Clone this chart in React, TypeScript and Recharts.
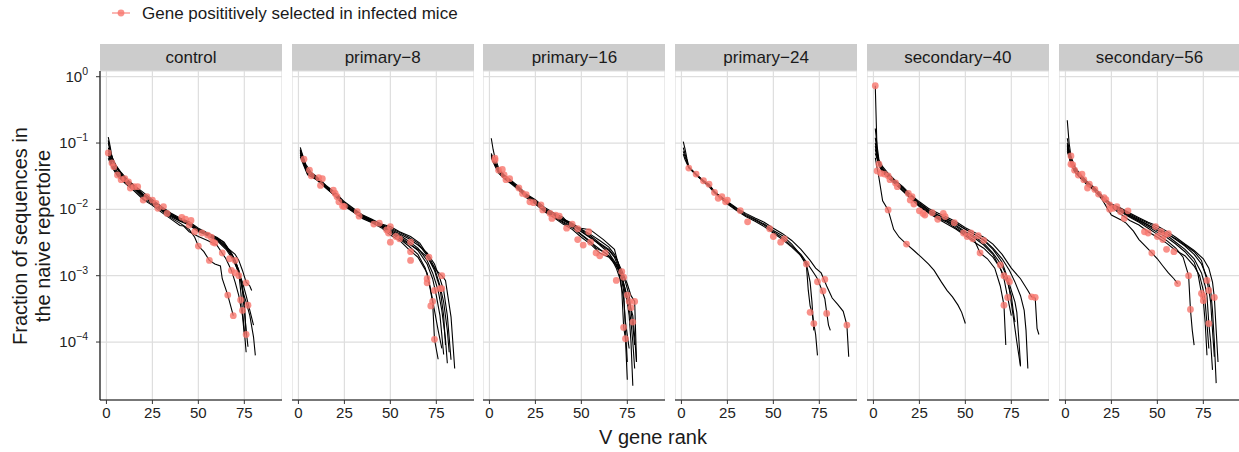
import React from "react"
import { ComposedChart, Line, Scatter, XAxis, YAxis, CartesianGrid } from "recharts"

// facet titles
const FACETS = ["control", "primary\u22128", "primary\u221216", "primary\u221224", "secondary\u221240", "secondary\u221256"]

const X_TICKS = [0, 25, 50, 75]
const Y_TICKS = [1e-4, 1e-3, 1e-2, 1e-1, 1]

// one array of [rank, fraction] per mouse
const controlLines = [
  [[1, 0.123], [2, 0.09], [3, 0.062], [5, 0.047], [8, 0.036], [12, 0.027], [16, 0.022], [20, 0.018], [25, 0.014], [30, 0.011], [35, 0.0088], [40, 0.0074], [45, 0.0065], [50, 0.0052], [55, 0.0044], [60, 0.0038], [64, 0.0032], [67, 0.0024], [70, 0.0017], [72, 0.0011], [73, 0.0006], [74, 0.0003], [75, 0.00015], [76, 0.00007]],
  [[1, 0.1], [2, 0.078], [4, 0.05], [7, 0.038], [10, 0.03], [15, 0.023], [20, 0.017], [25, 0.0135], [30, 0.0105], [35, 0.0085], [40, 0.0072], [45, 0.0063], [50, 0.005], [55, 0.0042], [60, 0.0036], [65, 0.0027], [68, 0.002], [71, 0.0013], [73, 0.0009], [74, 0.0006], [75, 0.0003], [76, 0.00015], [77, 0.000085]],
  [[1, 0.085], [3, 0.055], [6, 0.04], [10, 0.029], [15, 0.022], [20, 0.0165], [25, 0.013], [30, 0.0102], [35, 0.0082], [40, 0.0069], [45, 0.006], [50, 0.0048], [55, 0.0041], [60, 0.0035], [65, 0.0026], [68, 0.0021], [70, 0.0017], [72, 0.0012], [74, 0.0006], [76, 0.0004], [78, 0.00025], [80, 0.00012], [81, 0.000063]],
  [[1, 0.078], [3, 0.05], [6, 0.037], [10, 0.028], [15, 0.021], [20, 0.016], [25, 0.0128], [30, 0.01], [35, 0.008], [40, 0.0068], [45, 0.0059], [50, 0.0047], [55, 0.004], [60, 0.0034], [65, 0.0025], [68, 0.0019], [70, 0.0015], [72, 0.0011], [74, 0.0008], [76, 0.0005], [78, 0.0003], [80, 0.00018]],
  [[1, 0.071], [3, 0.048], [6, 0.035], [10, 0.027], [15, 0.021], [20, 0.0155], [25, 0.0125], [30, 0.0098], [35, 0.0078], [40, 0.0066], [45, 0.0058], [50, 0.0046], [55, 0.0041], [60, 0.0037], [63, 0.0033], [66, 0.0026], [70, 0.0021], [72, 0.0017], [74, 0.0012], [76, 0.0008], [78, 0.0007], [79, 0.0006]],
  [[1, 0.066], [3, 0.045], [6, 0.033], [10, 0.026], [15, 0.02], [20, 0.0145], [25, 0.012], [30, 0.0095], [35, 0.0075], [40, 0.0062], [45, 0.005], [48, 0.0038], [50, 0.0028], [53, 0.0023], [56, 0.0017], [59, 0.0015], [62, 0.0014], [63, 0.0009], [66, 0.00051], [69, 0.00025]],
  [[1, 0.059], [3, 0.043], [6, 0.032], [10, 0.025], [15, 0.019], [20, 0.014], [25, 0.0115], [30, 0.009], [35, 0.0072], [40, 0.0057], [42, 0.0056], [45, 0.0046], [50, 0.0039], [55, 0.0034], [60, 0.0029], [65, 0.0018], [68, 0.0012], [70, 0.0008], [72, 0.0005], [74, 0.00025], [75, 0.00013]],
  [[1, 0.11], [2, 0.075], [4, 0.052], [8, 0.033], [12, 0.025], [16, 0.02], [20, 0.0165], [25, 0.0132], [30, 0.0104], [35, 0.0086], [40, 0.007], [45, 0.0062], [50, 0.0049], [55, 0.0043], [60, 0.0037], [65, 0.0028], [68, 0.0022], [70, 0.0017], [72, 0.0012], [74, 0.0007], [75, 0.0004], [76, 0.00013]],
]

const primary8Lines = [
  [[1, 0.086], [2, 0.07], [4, 0.048], [7, 0.036], [10, 0.031], [15, 0.023], [20, 0.018], [25, 0.013], [30, 0.0103], [35, 0.0082], [40, 0.0071], [45, 0.006], [50, 0.0055], [55, 0.0046], [61, 0.0039], [66, 0.0031], [71, 0.0019], [75, 0.0012], [78, 0.001], [80, 0.00085], [83, 0.00024], [85, 0.00004]],
  [[1, 0.08], [3, 0.055], [5, 0.039], [10, 0.03], [15, 0.0225], [20, 0.0175], [25, 0.0125], [30, 0.01], [35, 0.008], [40, 0.0069], [45, 0.0058], [50, 0.005], [55, 0.0043], [60, 0.0036], [65, 0.0029], [70, 0.0022], [74, 0.0015], [77, 0.0009], [79, 0.0006], [81, 0.00025], [83, 0.000054]],
  [[1, 0.075], [3, 0.052], [5, 0.037], [10, 0.029], [15, 0.022], [20, 0.017], [25, 0.012], [30, 0.0097], [35, 0.0078], [40, 0.0068], [45, 0.0057], [50, 0.0048], [55, 0.0041], [60, 0.0033], [65, 0.0026], [70, 0.0017], [73, 0.0011], [76, 0.0006], [78, 0.0003], [80, 0.00011], [81, 0.000048]],
  [[1, 0.07], [3, 0.05], [5, 0.036], [10, 0.029], [15, 0.0215], [20, 0.0165], [25, 0.0118], [30, 0.0094], [35, 0.0076], [40, 0.0066], [45, 0.0056], [50, 0.0046], [55, 0.0039], [60, 0.0031], [65, 0.0024], [70, 0.0015], [73, 0.0009], [75, 0.0005], [77, 0.00025], [79, 0.000065]],
  [[1, 0.066], [3, 0.047], [5, 0.034], [10, 0.028], [15, 0.021], [20, 0.016], [25, 0.0115], [30, 0.0092], [35, 0.0074], [40, 0.0064], [45, 0.0055], [50, 0.0044], [55, 0.0036], [60, 0.0028], [65, 0.0021], [69, 0.0013], [71, 0.0008], [73, 0.0004], [74, 0.00011], [76, 0.000055]],
  [[1, 0.062], [3, 0.045], [5, 0.033], [10, 0.028], [15, 0.021], [20, 0.0158], [25, 0.0112], [30, 0.009], [35, 0.0072], [40, 0.0063], [45, 0.0053], [50, 0.0041], [55, 0.0034], [60, 0.0025], [65, 0.0019], [70, 0.0011], [72, 0.0006], [74, 0.0003], [76, 0.00015], [78, 0.00008]],
  [[1, 0.078], [2, 0.062], [4, 0.043], [8, 0.032], [12, 0.026], [18, 0.019], [22, 0.015], [26, 0.011], [32, 0.0088], [38, 0.0072], [44, 0.0062], [50, 0.0052], [55, 0.0045], [60, 0.0038], [65, 0.0031], [70, 0.002], [74, 0.0012], [77, 0.00065], [79, 0.00025], [80, 0.00009]],
  [[1, 0.072], [2, 0.06], [4, 0.042], [8, 0.031], [12, 0.025], [18, 0.019], [22, 0.014], [26, 0.011], [32, 0.0086], [38, 0.007], [44, 0.006], [50, 0.0047], [55, 0.0037], [60, 0.003], [66, 0.0024], [70, 0.0019], [74, 0.0013], [77, 0.0007], [79, 0.0004], [81, 0.00015], [82, 0.00007]],
]

const primary16Lines = [
  [[1, 0.118], [2, 0.08], [3, 0.06], [5, 0.042], [8, 0.033], [12, 0.027], [16, 0.022], [20, 0.017], [25, 0.014], [30, 0.0107], [35, 0.0088], [40, 0.0076], [44, 0.0057], [50, 0.0052], [55, 0.0049], [62, 0.0035], [68, 0.0025], [71, 0.0012], [74, 0.0006], [76, 0.0004], [78, 0.00025], [79, 0.00012], [80, 0.00005]],
  [[1, 0.066], [3, 0.052], [5, 0.04], [8, 0.032], [12, 0.026], [16, 0.021], [20, 0.0165], [25, 0.0135], [30, 0.0102], [35, 0.0085], [40, 0.0072], [45, 0.0062], [50, 0.005], [55, 0.0042], [60, 0.0034], [65, 0.0027], [68, 0.0021], [70, 0.0016], [72, 0.001], [74, 0.0006], [75, 0.0004], [76, 0.00025], [77, 0.0001], [78, 0.000022]],
  [[1, 0.062], [3, 0.048], [5, 0.038], [8, 0.031], [12, 0.025], [16, 0.02], [20, 0.016], [25, 0.013], [30, 0.0098], [35, 0.008], [40, 0.0068], [45, 0.0058], [50, 0.0046], [55, 0.0037], [60, 0.003], [65, 0.0024], [68, 0.0019], [70, 0.0014], [72, 0.0006], [73, 0.00017], [74, 0.00011], [75, 0.000027]],
  [[1, 0.065], [3, 0.05], [5, 0.037], [8, 0.03], [12, 0.025], [16, 0.0205], [20, 0.0158], [25, 0.0125], [30, 0.0095], [35, 0.0078], [40, 0.0065], [45, 0.0055], [50, 0.0042], [55, 0.0033], [58, 0.0026], [62, 0.0023], [66, 0.0019], [69, 0.0013], [71, 0.0009], [73, 0.00045], [74, 0.0002], [76, 0.00008]],
  [[1, 0.06], [3, 0.045], [5, 0.035], [8, 0.029], [12, 0.024], [16, 0.0195], [20, 0.015], [25, 0.012], [30, 0.0092], [35, 0.0075], [40, 0.006], [45, 0.005], [50, 0.0038], [55, 0.003], [60, 0.0022], [65, 0.0019], [69, 0.0014], [72, 0.00095], [74, 0.00051], [76, 0.00033], [77, 0.0002], [78, 0.0001], [79, 0.00004]],
  [[1, 0.07], [2, 0.058], [4, 0.044], [7, 0.034], [11, 0.027], [15, 0.022], [20, 0.0165], [25, 0.0128], [30, 0.0099], [35, 0.0082], [40, 0.0071], [45, 0.006], [50, 0.0049], [55, 0.004], [60, 0.0031], [65, 0.0025], [69, 0.0018], [72, 0.0012], [75, 0.00075], [77, 0.0005], [79, 0.00041], [80, 0.00005]],
  [[1, 0.064], [2, 0.054], [4, 0.042], [7, 0.033], [11, 0.026], [15, 0.0215], [20, 0.016], [25, 0.0122], [30, 0.0094], [35, 0.0077], [40, 0.0063], [45, 0.0053], [50, 0.0041], [55, 0.0032], [60, 0.0025], [64, 0.0021], [68, 0.0016], [71, 0.00115], [73, 0.0006], [74, 0.00015], [75, 0.00005]],
  [[1, 0.068], [3, 0.05], [5, 0.039], [8, 0.032], [12, 0.026], [16, 0.021], [20, 0.0162], [25, 0.013], [30, 0.01], [35, 0.0083], [40, 0.007], [45, 0.0059], [50, 0.0047], [55, 0.0038], [60, 0.0029], [65, 0.0022], [69, 0.0015], [72, 0.0011], [74, 0.0008], [76, 0.0005], [77, 0.0003], [78, 0.00018], [79, 0.00009]],
]

const primary24Lines = [
  [[1, 0.105], [2, 0.08], [3, 0.058], [4, 0.044], [8, 0.034], [12, 0.027], [15, 0.024], [18, 0.0186], [22, 0.0148], [25, 0.0128], [30, 0.0102], [35, 0.0084], [40, 0.0071], [45, 0.006], [50, 0.0048], [55, 0.004], [60, 0.003], [64, 0.0022], [67, 0.0016], [68, 0.0014], [69, 0.0006], [70, 0.00035], [71, 0.00028], [72, 0.00019], [73, 0.00013], [74, 0.000063]],
  [[1, 0.085], [2, 0.068], [4, 0.043], [8, 0.033], [12, 0.027], [15, 0.023], [18, 0.018], [22, 0.0145], [25, 0.0125], [30, 0.0098], [35, 0.0081], [40, 0.0069], [45, 0.0058], [50, 0.0046], [55, 0.0037], [60, 0.0028], [65, 0.0021], [68, 0.0016], [72, 0.0011], [74, 0.0009], [76, 0.00065], [78, 0.00045], [79, 0.00028], [80, 0.00018], [81, 0.00015]],
  [[1, 0.075], [2, 0.062], [4, 0.042], [8, 0.034], [12, 0.026], [15, 0.023], [18, 0.0182], [22, 0.0152], [25, 0.0132], [30, 0.0105], [35, 0.0087], [40, 0.0074], [45, 0.0064], [50, 0.0052], [55, 0.0043], [60, 0.0034], [65, 0.0025], [70, 0.0017], [73, 0.0013], [76, 0.0011], [79, 0.0007], [82, 0.00046], [85, 0.00037], [88, 0.00029], [90, 0.00018], [91, 0.00006]],
  [[1, 0.068], [2, 0.056], [4, 0.043], [8, 0.033], [12, 0.026], [15, 0.022], [18, 0.0178], [22, 0.0143], [25, 0.012], [30, 0.0096], [35, 0.0078], [40, 0.0066], [45, 0.0055], [50, 0.0044], [55, 0.0035], [60, 0.0027], [65, 0.002], [68, 0.0015], [70, 0.0008], [71, 0.0004], [72, 0.00015]],
]

const secondary40Lines = [
  [[1, 0.73], [2, 0.07], [3, 0.05], [5, 0.04], [8, 0.033], [12, 0.026], [16, 0.021], [20, 0.0165], [25, 0.0125], [30, 0.0098], [35, 0.0083], [40, 0.0072], [45, 0.0062], [50, 0.005], [55, 0.0042], [60, 0.0034], [65, 0.0025], [70, 0.0016], [72, 0.0011], [74, 0.0006], [76, 0.00025], [78, 0.0001], [80, 0.000043]],
  [[1, 0.06], [2, 0.042], [3, 0.03], [5, 0.0135], [8, 0.0098], [11, 0.005], [14, 0.0038], [18, 0.003], [22, 0.0024], [26, 0.0019], [30, 0.0015], [33, 0.0012], [37, 0.0008], [40, 0.0006], [43, 0.00048], [46, 0.00036], [48, 0.00028], [50, 0.00019]],
  [[1, 0.166], [2, 0.09], [3, 0.056], [5, 0.044], [8, 0.035], [12, 0.027], [16, 0.022], [20, 0.017], [25, 0.013], [30, 0.0103], [35, 0.0088], [40, 0.0076], [45, 0.0065], [50, 0.0053], [55, 0.0045], [60, 0.0038], [65, 0.003], [70, 0.0021], [75, 0.0013], [80, 0.0009], [84, 0.0006], [86, 0.00048], [88, 0.00046], [89, 0.00016], [90, 0.00013]],
  [[1, 0.12], [2, 0.075], [3, 0.052], [5, 0.042], [8, 0.033], [12, 0.026], [16, 0.021], [20, 0.016], [25, 0.0122], [30, 0.0097], [35, 0.0082], [40, 0.0071], [45, 0.006], [50, 0.005], [55, 0.0042], [60, 0.0035], [65, 0.0026], [70, 0.0018], [74, 0.0012], [77, 0.0008], [80, 0.0005], [82, 0.0003], [83, 0.00015], [84, 0.00004]],
  [[1, 0.1], [3, 0.05], [5, 0.04], [8, 0.032], [12, 0.025], [16, 0.02], [20, 0.0155], [25, 0.0118], [30, 0.0094], [35, 0.0078], [40, 0.0068], [45, 0.0057], [50, 0.0046], [55, 0.0039], [60, 0.0031], [65, 0.0022], [70, 0.0014], [73, 0.00091], [75, 0.0006], [77, 0.0004], [78, 0.00028], [79, 0.00012], [80, 0.000045]],
  [[1, 0.09], [3, 0.048], [5, 0.038], [8, 0.031], [12, 0.025], [16, 0.019], [20, 0.015], [25, 0.0112], [30, 0.009], [35, 0.0074], [40, 0.0064], [45, 0.0052], [50, 0.0042], [55, 0.0034], [58, 0.0022], [62, 0.0018], [66, 0.0013], [69, 0.0007], [71, 0.00036], [72, 0.00009]],
  [[1, 0.08], [3, 0.046], [5, 0.037], [8, 0.03], [12, 0.024], [16, 0.019], [20, 0.0148], [25, 0.011], [30, 0.0088], [35, 0.0072], [40, 0.006], [45, 0.005], [50, 0.004], [55, 0.0032], [60, 0.0026], [65, 0.0019], [69, 0.0013], [71, 0.0009], [73, 0.00047], [75, 0.00025]],
  [[1, 0.07], [3, 0.047], [5, 0.036], [8, 0.03], [12, 0.024], [16, 0.019], [20, 0.015], [25, 0.0115], [30, 0.0091], [35, 0.0076], [40, 0.0066], [45, 0.0055], [50, 0.0044], [55, 0.0037], [60, 0.0029], [65, 0.0021], [68, 0.00145], [71, 0.001], [73, 0.0008], [75, 0.0005], [76, 0.0003], [77, 0.0002]],
]

const secondary56Lines = [
  [[1, 0.22], [2, 0.1], [3, 0.064], [5, 0.044], [8, 0.034], [12, 0.026], [16, 0.021], [20, 0.016], [25, 0.012], [30, 0.0105], [35, 0.0088], [40, 0.0075], [45, 0.0064], [50, 0.0056], [55, 0.0047], [60, 0.0038], [65, 0.003], [70, 0.0024], [75, 0.0018], [78, 0.0013], [80, 0.0008], [81, 0.00047], [82, 0.00015], [83, 0.00005]],
  [[1, 0.118], [2, 0.08], [3, 0.058], [5, 0.042], [8, 0.033], [12, 0.025], [16, 0.0205], [20, 0.0155], [25, 0.0118], [30, 0.0102], [35, 0.0085], [40, 0.0072], [45, 0.0062], [50, 0.0052], [55, 0.0044], [60, 0.0035], [65, 0.0028], [70, 0.0021], [74, 0.0015], [77, 0.00095], [79, 0.0006], [80, 0.0003], [81, 0.0001], [82, 0.000024]],
  [[1, 0.1], [3, 0.055], [5, 0.04], [8, 0.032], [12, 0.025], [16, 0.02], [20, 0.015], [25, 0.0115], [30, 0.0098], [35, 0.0082], [40, 0.007], [45, 0.0058], [50, 0.0048], [55, 0.0041], [60, 0.0032], [65, 0.0025], [70, 0.0018], [74, 0.0011], [76, 0.0007], [77, 0.00049], [78, 0.00019], [79, 0.0001], [80, 0.000038]],
  [[1, 0.09], [3, 0.052], [5, 0.039], [8, 0.031], [12, 0.024], [16, 0.0195], [20, 0.0148], [25, 0.0112], [30, 0.0095], [35, 0.0078], [40, 0.0066], [45, 0.0055], [50, 0.0045], [55, 0.0038], [60, 0.003], [65, 0.0023], [70, 0.0016], [72, 0.0011], [74, 0.00054], [75, 0.00042], [76, 0.0002], [77, 0.000063]],
  [[1, 0.085], [3, 0.05], [5, 0.038], [8, 0.03], [12, 0.024], [16, 0.019], [20, 0.0145], [25, 0.011], [30, 0.0092], [35, 0.0076], [40, 0.0064], [45, 0.0052], [50, 0.0042], [55, 0.0034], [60, 0.0026], [64, 0.0019], [67, 0.001], [68, 0.00031], [69, 0.00015], [70, 0.00009]],
  [[1, 0.08], [3, 0.048], [5, 0.037], [8, 0.03], [12, 0.023], [16, 0.019], [20, 0.014], [25, 0.0082], [30, 0.007], [33, 0.0062], [37, 0.0047], [40, 0.0035], [44, 0.0027], [47, 0.0022], [50, 0.0018], [53, 0.0014], [56, 0.0011], [59, 0.0009], [61, 0.00076]],
  [[1, 0.075], [3, 0.05], [5, 0.037], [8, 0.031], [12, 0.024], [16, 0.0195], [20, 0.015], [25, 0.0108], [30, 0.0085], [35, 0.0068], [40, 0.0058], [45, 0.0046], [50, 0.0038], [55, 0.0031], [60, 0.0024], [65, 0.002], [70, 0.0014], [73, 0.001], [75, 0.0006], [76, 0.0004], [77, 0.00019], [78, 0.00008]],
  [[1, 0.095], [2, 0.07], [4, 0.047], [7, 0.035], [11, 0.027], [15, 0.021], [20, 0.0152], [25, 0.0113], [30, 0.0097], [35, 0.008], [40, 0.0068], [45, 0.0058], [50, 0.0049], [55, 0.0043], [60, 0.0036], [65, 0.0029], [70, 0.0023], [74, 0.0017], [77, 0.00085], [78, 0.0006], [79, 0.0004], [80, 0.00015], [81, 0.00006]],
]

// genes positively selected in infected mice: [rank, fraction]
const controlSelected = [
  [1, 0.071], [3, 0.05], [4, 0.044], [6, 0.033], [8, 0.028], [10, 0.029], [12, 0.026], [13, 0.021], [15, 0.022], [17, 0.022],
  [20, 0.0138], [22, 0.0155], [25, 0.0138], [27, 0.0123], [28, 0.0104], [31, 0.011], [33, 0.0087], [41, 0.0076], [43, 0.0071],
  [45, 0.0058], [46, 0.0068], [48, 0.0046], [50, 0.0028], [52, 0.0044], [55, 0.0041], [57, 0.0038], [58, 0.0032], [59, 0.0031],
  [56, 0.0017], [63, 0.0022], [67, 0.0018], [70, 0.0017], [68, 0.0012], [70, 0.0011], [72, 0.001], [76, 0.00078], [66, 0.00051],
  [73, 0.00043], [69, 0.00025], [74, 0.0003], [77, 0.00036], [76, 0.00013],
]

const primary8Selected = [
  [3, 0.057], [6, 0.039], [7, 0.032], [11, 0.03], [12, 0.023], [13, 0.029], [19, 0.0195], [20, 0.0174], [21, 0.0155], [22, 0.013],
  [24, 0.0112], [25, 0.011], [32, 0.0092], [33, 0.0079], [41, 0.006], [44, 0.0062], [48, 0.0049], [50, 0.0055], [49, 0.0044],
  [50, 0.0032], [53, 0.0039], [55, 0.0036], [61, 0.0032], [61, 0.0023], [61, 0.0017], [71, 0.0019], [78, 0.001], [70, 0.0009],
  [70, 0.00078], [74, 0.0006], [77, 0.00064], [78, 0.00064], [73, 0.00041], [72, 0.00035], [74, 0.00011],
]

const primary16Selected = [
  [3, 0.059], [3, 0.055], [5, 0.039], [7, 0.04], [8, 0.033], [9, 0.028], [11, 0.029], [16, 0.021], [18, 0.0174], [20, 0.0166],
  [22, 0.013], [24, 0.0126], [28, 0.0117], [29, 0.0098], [33, 0.0087], [34, 0.0073], [36, 0.0082], [38, 0.0079], [42, 0.0052],
  [45, 0.006], [48, 0.0051], [48, 0.0035], [51, 0.0029], [54, 0.0046], [55, 0.0032], [58, 0.0022], [60, 0.002], [63, 0.0022],
  [72, 0.00115], [69, 0.00085], [73, 0.00095], [75, 0.00051], [76, 0.00041], [77, 0.00033], [79, 0.00041], [78, 0.0002],
  [73, 0.000166], [74, 0.000112],
]

const primary24Selected = [
  [4, 0.042], [8, 0.034], [12, 0.027], [15, 0.024], [18, 0.018], [20, 0.0147], [22, 0.0155], [24, 0.013], [25, 0.0138], [32, 0.0096],
  [36, 0.0065], [48, 0.0051], [50, 0.0039], [54, 0.0032], [56, 0.0036], [68, 0.0015], [74, 0.00081], [78, 0.00088], [77, 0.00059],
  [70, 0.00028], [72, 0.00019], [79, 0.00027], [90, 0.00018],
]

const secondary40Selected = [
  [1, 0.73], [3, 0.048], [2, 0.038], [4, 0.035], [6, 0.034], [8, 0.032], [9, 0.028], [12, 0.025], [13, 0.022], [8, 0.0098],
  [18, 0.003], [19, 0.0174], [20, 0.0138], [21, 0.0155], [22, 0.012], [25, 0.0095], [27, 0.0087], [28, 0.0082], [32, 0.0089],
  [35, 0.0071], [38, 0.0087], [39, 0.0078], [44, 0.0063], [49, 0.0044], [51, 0.0039], [53, 0.0044], [54, 0.0036], [57, 0.004],
  [60, 0.0034], [58, 0.0022], [69, 0.00145], [71, 0.001], [73, 0.00091], [74, 0.00081], [71, 0.00036], [73, 0.00047],
  [86, 0.00048], [88, 0.00047],
]

const secondary56Selected = [
  [3, 0.064], [3, 0.048], [4, 0.047], [5, 0.039], [7, 0.033], [9, 0.034], [10, 0.028], [12, 0.021], [13, 0.024], [16, 0.02],
  [18, 0.017], [21, 0.015], [22, 0.014], [24, 0.0117], [24, 0.01], [26, 0.0104], [28, 0.011], [30, 0.0092], [32, 0.0073],
  [34, 0.0095], [43, 0.0046], [45, 0.0044], [47, 0.0022], [49, 0.0055], [50, 0.0039], [52, 0.0046], [53, 0.0035], [54, 0.0041],
  [56, 0.0043], [55, 0.0025], [59, 0.0023], [61, 0.00076], [67, 0.001], [68, 0.00031], [77, 0.00085], [78, 0.0006], [74, 0.00054],
  [75, 0.00042], [75, 0.00049], [81, 0.00047], [78, 0.00019],
]

const LINES = [controlLines, primary8Lines, primary16Lines, primary24Lines, secondary40Lines, secondary56Lines]
const SELECTED = [controlSelected, primary8Selected, primary16Selected, primary24Selected, secondary40Selected, secondary56Selected]

const PINK = "#F8766D"
const TEXT = "#1A1A1A"
const FONT = "'Liberation Sans', Arial, Helvetica, sans-serif"

const PANEL_X0 = 100
const PANEL_STEP = 191.7
const PANEL_W = 182
const PANEL_TOP = 71
const PANEL_H = 329
const PAD_TOP = 12 // room above the panel for the 10^0 superscript
const STRIP_TOP = 44
const STRIP_H = 27
const Y_AXIS_W = 60
const X_AXIS_H = 34

const toPoints = (arr: number[][]) => arr.map(([rank, frac]) => ({ rank, frac }))

function PowerTick(props: any) {
  const { x, y, payload } = props
  const exp = Math.round(Math.log10(payload.value))
  return (
    <text x={x} y={y} textAnchor="end" fill="#222" fontSize={15} dy={5}>
      <tspan>10</tspan>
      <tspan dy={-7} fontSize={10.5}>{exp === 0 ? "0" : "\u2212" + Math.abs(exp)}</tspan>
    </text>
  )
}

function Dot(props: any) {
  const { cx, cy } = props
  return <circle cx={cx} cy={cy} r={3.4} fill={PINK} fillOpacity={0.8} />
}

function Facet({ index }: { index: number }) {
  const first = index === 0
  const panelLeft = PANEL_X0 + index * PANEL_STEP
  const width = PANEL_W + (first ? Y_AXIS_W : 0)
  return (
    <>
      <div
        style={{
          position: "absolute",
          left: panelLeft,
          top: STRIP_TOP,
          width: PANEL_W,
          height: STRIP_H,
          background: "#CCCCCC",
          color: TEXT,
          fontSize: 17,
          lineHeight: `${STRIP_H}px`,
          textAlign: "center",
        }}
      >
        {FACETS[index]}
      </div>
      <div style={{ position: "absolute", left: panelLeft - (first ? Y_AXIS_W : 0), top: PANEL_TOP - PAD_TOP }}>
        <ComposedChart
          width={width}
          height={PANEL_H + X_AXIS_H + PAD_TOP}
          margin={{ top: PAD_TOP, right: 0, bottom: 0, left: 0 }}
        >
          <CartesianGrid stroke="#DEDEDE" strokeWidth={1.2} />
          <XAxis
            type="number"
            dataKey="rank"
            domain={[-3.5, 95.5]}
            ticks={X_TICKS}
            interval={0}
            allowDataOverflow
            height={X_AXIS_H}
            tickSize={4}
            tickMargin={3}
            axisLine={{ stroke: "#000", strokeWidth: 1.1 }}
            tickLine={{ stroke: "#333" }}
            tick={{ fill: "#222", fontSize: 15 }}
          />
          <YAxis
            type="number"
            dataKey="frac"
            scale="log"
            domain={[1.337e-5, 1.219]}
            ticks={Y_TICKS}
            interval={0}
            allowDataOverflow
            hide={!first}
            width={Y_AXIS_W}
            tickSize={4}
            tickMargin={8}
            axisLine={{ stroke: "#000", strokeWidth: 1.1 }}
            tickLine={{ stroke: "#333" }}
            tick={<PowerTick />}
          />
          <Scatter data={toPoints(SELECTED[index])} shape={<Dot />} isAnimationActive={false} />
          {LINES[index].map((line, i) => (
            <Line
              key={i}
              data={toPoints(line)}
              dataKey="frac"
              type="linear"
              stroke="#000"
              strokeWidth={1.1}
              dot={false}
              activeDot={false}
              isAnimationActive={false}
            />
          ))}
        </ComposedChart>
      </div>
    </>
  )
}

export default function App() {
  return (
    <div
      style={{
        position: "absolute",
        left: 0,
        top: 0,
        width: 1239,
        height: 452,
        overflow: "hidden",
        background: "#fff",
        fontFamily: FONT,
      }}
    >
      <svg width={1239} height={452} style={{ position: "absolute", left: 0, top: 0 }}>
        <line x1={112} y1={13} x2={130} y2={13} stroke={PINK} strokeOpacity={0.8} strokeWidth={1.3} />
        <circle cx={121} cy={13} r={3.4} fill={PINK} fillOpacity={0.8} />
        <text x={142} y={19} fontSize={17} fill={TEXT}>
          Gene posititively selected in infected mice
        </text>
        <text x={653} y={444} fontSize={20} fill={TEXT} textAnchor="middle">
          V gene rank
        </text>
        <text transform="translate(27,236) rotate(-90)" fontSize={20} fill={TEXT} textAnchor="middle">
          Fraction of sequences in
        </text>
        <text transform="translate(50,236) rotate(-90)" fontSize={20} fill={TEXT} textAnchor="middle">
          the naive repertoire
        </text>
      </svg>
      {FACETS.map((_, i) => (
        <Facet key={i} index={i} />
      ))}
    </div>
  )
}
